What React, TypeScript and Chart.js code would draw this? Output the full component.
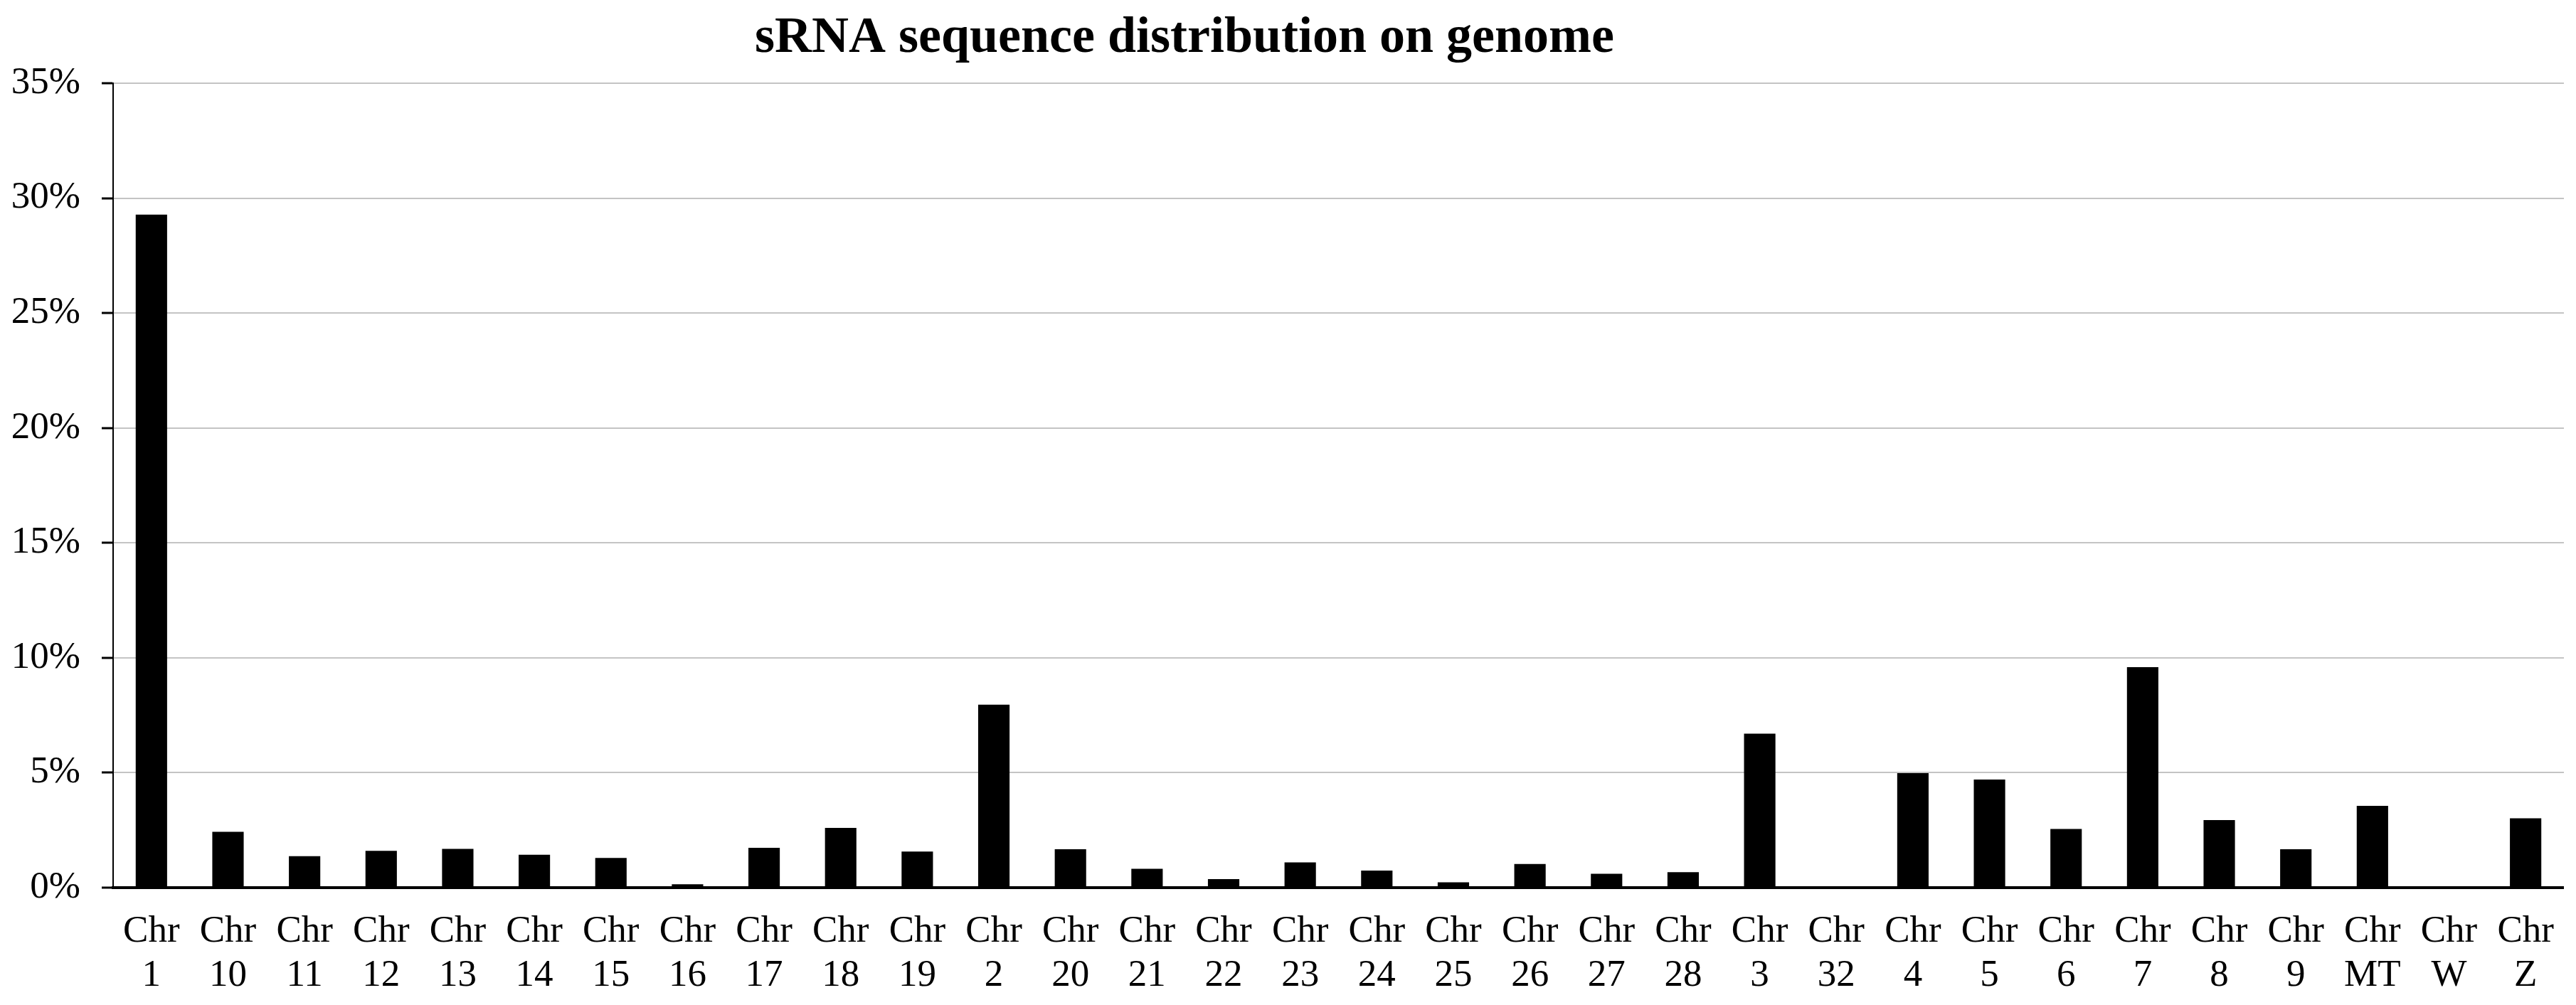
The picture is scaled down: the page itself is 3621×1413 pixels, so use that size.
import { useEffect, useRef } from "react";
import { Chart, registerables } from "chart.js";

Chart.register(...registerables);

// chromosome names, in the order they appear on the axis
const chromosomes = [
  "1", "10", "11", "12", "13", "14", "15", "16", "17", "18", "19",
  "2", "20", "21", "22", "23", "24", "25", "26", "27", "28",
  "3", "32", "4", "5", "6", "7", "8", "9", "MT", "W", "Z",
];

// share of sRNA reads on each chromosome (%)
const shares = [
  29.28, 2.43, 1.37, 1.6, 1.69, 1.43, 1.29, 0.15, 1.73, 2.6, 1.57,
  7.96, 1.67, 0.82, 0.37, 1.1, 0.74, 0.23, 1.03, 0.6, 0.67,
  6.7, 0, 4.98, 4.7, 2.55, 9.59, 2.94, 1.67, 3.56, 0, 3.02,
];

const yMax = 35;
const yStep = 5;
const chartTitle = "sRNA sequence distribution on genome";

const FONT = "'Liberation Serif', 'Times New Roman', serif";

const titlePlugin = {
  id: "plainTitle",
  afterDraw(chart: Chart) {
    const ctx = chart.ctx;
    ctx.save();
    ctx.font = `bold 72px ${FONT}`;
    ctx.fillStyle = "#000";
    ctx.textAlign = "center";
    ctx.textBaseline = "alphabetic";
    ctx.fillText(chartTitle, 1665, 73);
    ctx.restore();
  },
};

export default function App() {
  const canvasRef = useRef<HTMLCanvasElement>(null);

  useEffect(() => {
    const ctx = canvasRef.current?.getContext("2d");
    if (!ctx) return;

    const chart = new Chart(ctx, {
      type: "bar",
      data: {
        labels: chromosomes.map((c) => ["Chr", c]),
        datasets: [
          {
            data: shares,
            backgroundColor: "#000",
            borderWidth: 0,
            barPercentage: 0.41,
            categoryPercentage: 1,
          },
        ],
      },
      options: {
        responsive: false,
        animation: false,
        devicePixelRatio: 1,
        layout: { padding: { top: 117, right: 6, left: 0, bottom: 0 } },
        plugins: {
          legend: { display: false },
          title: { display: false },
          tooltip: { enabled: false },
        },
        scales: {
          x: {
            grid: { display: false, drawTicks: false },
            border: { display: true, color: "#000", width: 4 },
            ticks: {
              color: "#000",
              font: { family: FONT, size: 53, lineHeight: 1.17 },
              padding: 31,
              maxRotation: 0,
              autoSkip: false,
            },
            afterFit(scale: any) {
              scale.height = 165;
            },
          },
          y: {
            min: 0,
            max: yMax,
            grid: {
              color: "#c4c4c4",
              lineWidth: 2,
              tickColor: "#000",
              tickLength: 16,
              tickWidth: 3,
            },
            border: { display: true, color: "#000", width: 2 },
            ticks: {
              stepSize: yStep,
              color: "#000",
              font: { family: FONT, size: 53 },
              padding: 30,
              callback: (v: any) => `${v}%`,
            },
            afterFit(scale: any) {
              scale.width = 159;
            },
          },
        },
      },
      plugins: [titlePlugin],
    });

    return () => {
      chart.destroy();
    };
  }, []);

  return (
    <div style={{ position: "absolute", left: 0, top: 0, width: 3621, height: 1413, background: "#fff" }}>
      <canvas ref={canvasRef} width={3621} height={1413} style={{ display: "block" }} />
    </div>
  );
}
